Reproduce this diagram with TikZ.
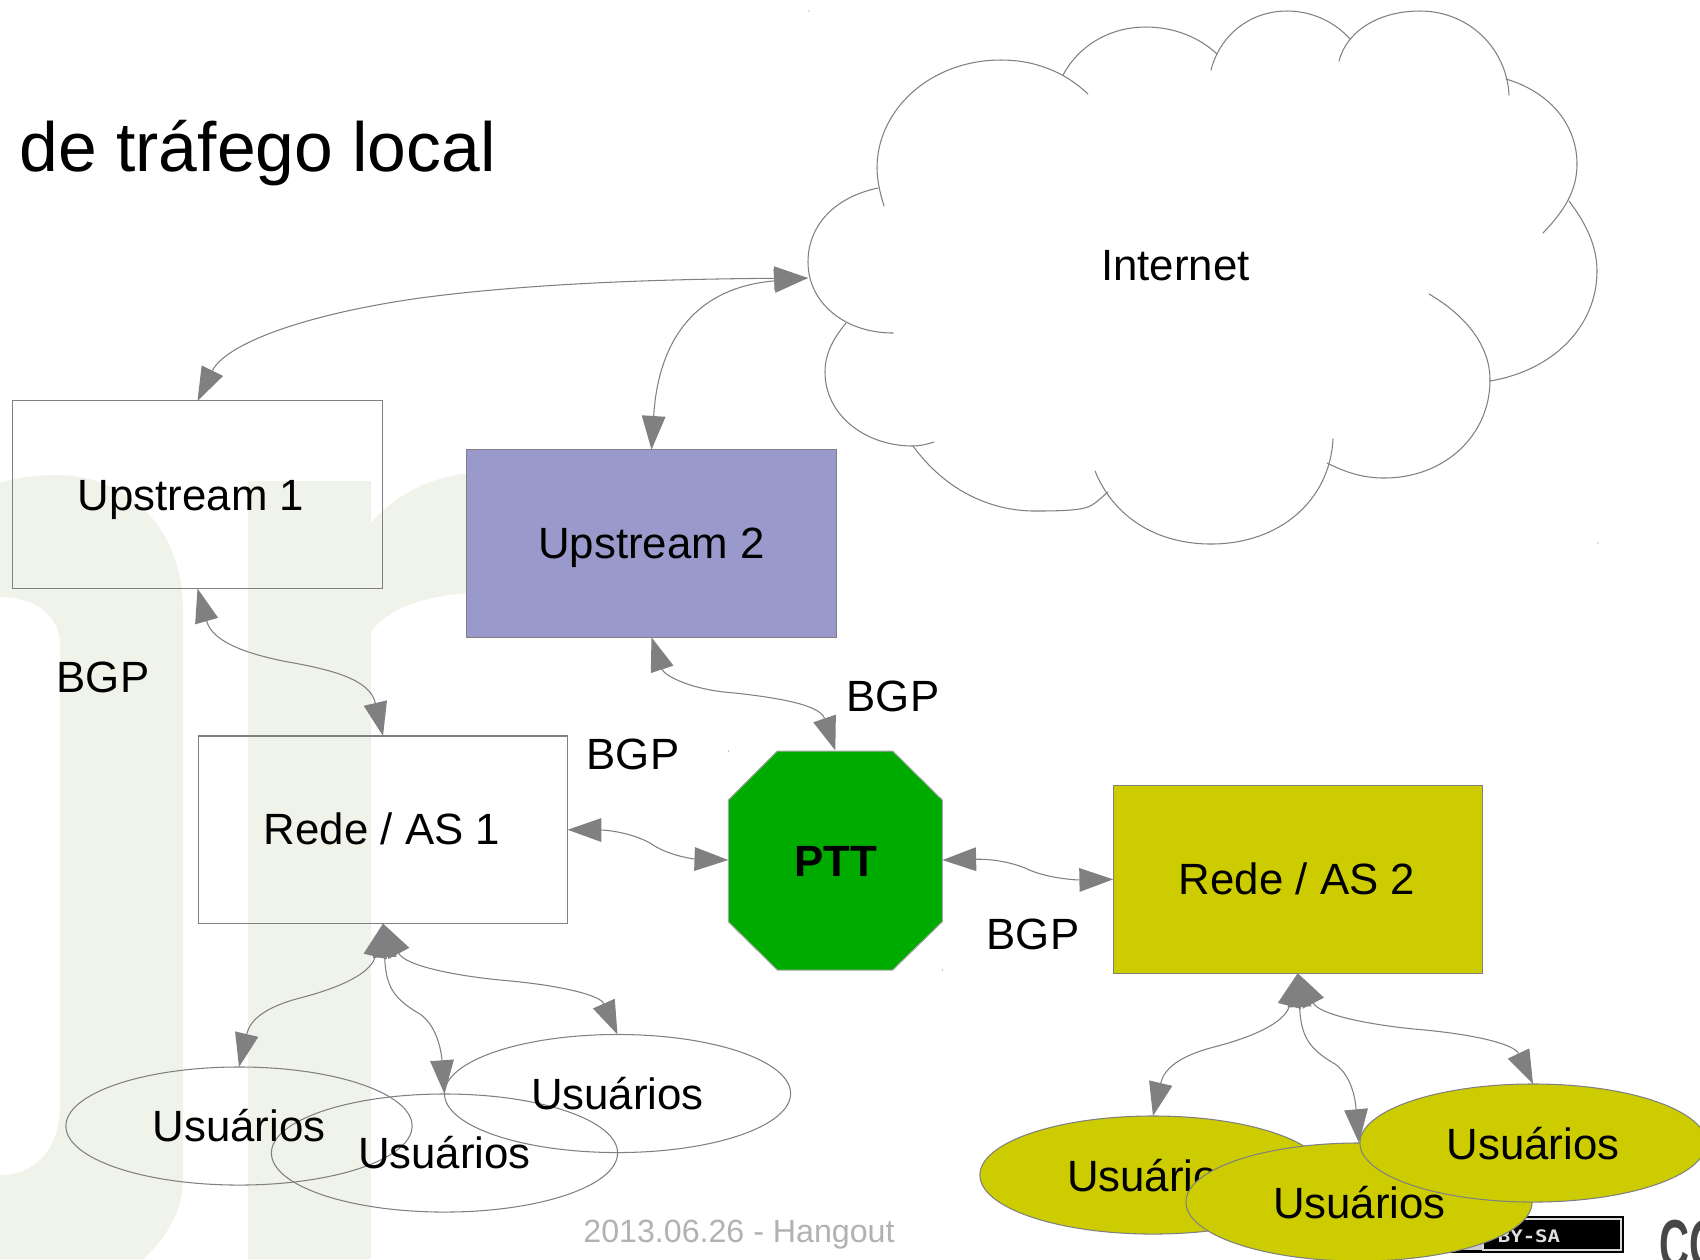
\documentclass[tikz,border=0pt]{standalone}
\usepackage{fontspec}
\setmainfont{Liberation Sans}
\usetikzlibrary{arrows.meta,shapes.geometric}
\definecolor{wm}{HTML}{F0F3E9}
\definecolor{linegray}{HTML}{808080}
\definecolor{blueb}{HTML}{9999CC}
\definecolor{yell}{HTML}{CCCC00}
\definecolor{pttg}{HTML}{00AB00}
\tikzset{
  lbl/.style={font=\fontsize{12.45}{14}\selectfont,inner sep=0pt,anchor=base,text=black},
  boxnode/.style={draw=linegray,line width=0.3pt,rectangle,inner sep=0pt,outer sep=0pt,minimum width=3.69cm,minimum height=1.875cm},
  userell/.style={draw=linegray,line width=0.3pt,ellipse,inner sep=0pt,outer sep=0pt,minimum width=3.46cm,minimum height=1.18cm},
  conn/.style={draw=linegray,line width=0.3pt,{Triangle[length=9.6pt,width=6.8pt,fill=linegray,line width=0pt]}-{Triangle[length=9.6pt,width=6.8pt,fill=linegray,line width=0pt]}},
  bump/.style={draw=linegray,line width=0.3pt,line cap=round}
}
\begin{document}
\begin{tikzpicture}[x=0.01cm,y=-0.01cm]
\useasboundingbox (0,0) rectangle (1700,1259);
\clip (0,0) rectangle (1700,1259);
\fill[white] (0,0) rectangle (1700,1259);
% watermark
\fill[wm] (0,483) .. controls (15,478) and (35,475) .. (55,475)
  .. controls (130,475) and (183,530) .. (183,610) -- (183,1180)
  .. controls (183,1210) and (165,1240) .. (143,1259) -- (0,1259) -- (0,1175)
  .. controls (35,1175) and (60,1150) .. (60,1105) -- (60,645)
  .. controls (60,615) and (35,597) .. (0,597) -- cycle;
\fill[wm] (248,481) -- (371,481) -- (371,523)
  .. controls (395,495) and (430,477) .. (470,473) -- (560,473) -- (560,593) -- (470,593)
  .. controls (425,595) and (385,610) .. (371,632) -- (371,1259) -- (248,1259) -- cycle;
% specks
\fill[linegray] (809,11) circle (0.7) (1598,543) circle (0.7) (728.5,751) circle (0.7) (942.5,970) circle (0.7);
% cloud
\draw[bump] (878,188) .. controls (835,197) and (808,225) .. (808,262) .. controls (808,303) and (845,333) .. (893,333);
\draw[bump] (846,323) .. controls (832,340) and (825,355) .. (825,372) .. controls (825,415) and (865,446) .. (913,446) .. controls (920,446) and (928,444) .. (934,442);
\draw[bump] (913,446) .. controls (945,490) and (990,511) .. (1035,511) .. controls (1065,511) and (1085,510) .. (1092,505) .. controls (1097,502) and (1102,497) .. (1108,492);
\draw[bump] (1095,471) .. controls (1115,520) and (1160,544) .. (1211,544) .. controls (1280,544) and (1330,500) .. (1333,439);
\draw[bump] (1327,463) .. controls (1345,472) and (1362,478) .. (1384,478) .. controls (1445,478) and (1490,435) .. (1490,380) .. controls (1490,345) and (1465,315) .. (1429,294);
\draw[bump] (1490,381) .. controls (1555,370) and (1597,325) .. (1597,271) .. controls (1597,245) and (1585,222) .. (1569,201);
\draw[bump] (1543,233) .. controls (1565,210) and (1577,190) .. (1577,164) .. controls (1577,125) and (1550,92) .. (1506,79);
\draw[bump] (1509,95) .. controls (1507,50) and (1470,11) .. (1420,11) .. controls (1380,11) and (1347,30) .. (1339,61);
\draw[bump] (1350,39) .. controls (1335,22) and (1312,11) .. (1287,11) .. controls (1250,11) and (1220,35) .. (1211,70);
\draw[bump] (1217,54) .. controls (1200,38) and (1175,27) .. (1146,27) .. controls (1108,27) and (1078,47) .. (1063,75);
\draw[bump] (1088,94) .. controls (1065,72) and (1035,60) .. (1001,60) .. controls (930,60) and (877,110) .. (877,168) .. controls (877,180) and (880,193) .. (884,206);
\coordinate (cloudw) at (808,278);
% boxes
\node[boxnode] (up1) at (197.5,494.75) {};
\node[boxnode,fill=blueb] (up2) at (651.5,543.5) {};
\node[boxnode] (rede1) at (383,829.75) {};
\node[boxnode,fill=yell] (rede2) at (1297.75,879.35) {};
% PTT
\fill[pttg,draw=linegray!70,line width=0.3pt] (777.3,751) -- (892.7,751) -- (942.3,800) -- (942.3,921.7) -- (892.7,970) -- (777.3,970) -- (728.3,921.7) -- (728.3,800) -- cycle;
\node[rectangle,inner sep=0pt,outer sep=0pt,minimum width=2.14cm,minimum height=2.19cm] (ptt) at (835.3,860) {};
% licence badge
\fill[black] (1445,1216) rectangle (1623.5,1253);
\fill[black!20] (1447,1219) rectangle (1483,1250);
\draw[black!15,line width=0.5pt] (1483,1219) rectangle (1621,1250);
\node[inner sep=0pt,anchor=center,text=black!12,font=\bfseries\fontsize{4.9}{6}\selectfont] (bysa) at (1529,1236) {\scalebox{1.2}[1]{\fontspec{DejaVu Sans Mono Bold}BY-SA}};
\node[inner sep=0pt,anchor=base west,text=black!72,font=\bfseries\fontsize{19.7}{22}\selectfont] (cc) at (1659,1268) {\scalebox{0.6}[1]{CO}};
% white user ellipses
\node[userell] (ua) at (239,1126) {};
\node[userell] (ub) at (444.5,1153) {};
\node[userell] (uc) at (617.5,1093.5) {};
% yellow user ellipses
\node[userell,fill=yell] (ya) at (1153,1175) {};
\node[lbl] (tya) at (1153.5,1191.5) {Usuários};
\node[userell,fill=yell] (yb) at (1359,1202) {};
\node[lbl] (tyb) at (1359.5,1218.5) {Usuários};
\node[userell,fill=yell] (yc) at (1533,1143) {};
\node[lbl] (tyc) at (1533,1159) {Usuários};
% connectors
\draw[conn] (up1.north) .. controls (225,345) and (300,315) .. (420,298) .. controls (540,282) and (680,279) .. (cloudw);
\draw[conn] (up2.north) .. controls (656,380) and (668,290) .. (cloudw);
\draw[conn] (up1.south) .. controls (212,640) and (240,652) .. (283,661) .. controls (335,670) and (370,680) .. (rede1.north);
\draw[conn] (up2.south) .. controls (664,675) and (690,690) .. (735,693) .. controls (780,698) and (820,705) .. (ptt.north);
\draw[conn] (rede1.east) .. controls (605,830) and (630,832) .. (650,843) .. controls (668,856) and (695,859) .. (ptt.west);
\draw[conn] (ptt.east) .. controls (985,859) and (1005,860) .. (1025,868) .. controls (1045,878) and (1075,880) .. (rede2.west);
\draw[conn] (rede1.south) .. controls (372,970) and (350,985) .. (300,998) .. controls (265,1007) and (250,1020) .. (ua.north);
\draw[conn] (rede1.south) .. controls (386,985) and (392,998) .. (420,1014) .. controls (440,1028) and (442,1060) .. (ub.north);
\draw[conn] (rede1.south) .. controls (405,965) and (450,975) .. (500,980) .. controls (560,985) and (600,995) .. (uc.north);
\draw[conn] (rede2.south) .. controls (1286,1019) and (1264,1034) .. (1214,1047) .. controls (1179,1056) and (1164,1069) .. (ya.north);
\draw[conn] (rede2.south) .. controls (1301,1034) and (1307,1048) .. (1335,1064) .. controls (1355,1078) and (1356,1109) .. (yb.north);
\draw[conn] (rede2.south) .. controls (1319,1014) and (1364,1024) .. (1414,1029) .. controls (1474,1034) and (1514,1044) .. (yc.north);
% labels
\node[inner sep=0pt,anchor=base west,font=\fontsize{19.8}{22}\selectfont] (title) at (19,171.5) {de tráfego local};
\node[lbl] (tnet) at (1175.5,280) {Internet};
\node[lbl] (tup1) at (191,510) {Upstream 1};
\node[lbl] (tup2) at (651.5,558.5) {Upstream 2};
\node[lbl] (tr1) at (382,844) {Rede / AS 1};
\node[lbl] (tr2) at (1297,894.8) {Rede / AS 2};
\node[lbl,font=\bfseries\fontsize{12.45}{14}\selectfont] (tptt) at (835.5,876) {PTT};
\node[lbl] (b1) at (103,692) {BGP};
\node[lbl] (b2) at (893,711) {BGP};
\node[lbl] (b3) at (633,769) {BGP};
\node[lbl] (b4) at (1033,949) {BGP};
\node[lbl] (tua) at (239,1141.7) {Usuários};
\node[lbl] (tub) at (444.5,1168) {Usuários};
\node[lbl] (tuc) at (617.5,1109) {Usuários};
\node[inner sep=0pt,anchor=base,text=black!30,font=\fontsize{9.15}{11}\selectfont] (foot) at (739,1242) {2013.06.26 - Hangout};
\end{tikzpicture}
\end{document}
